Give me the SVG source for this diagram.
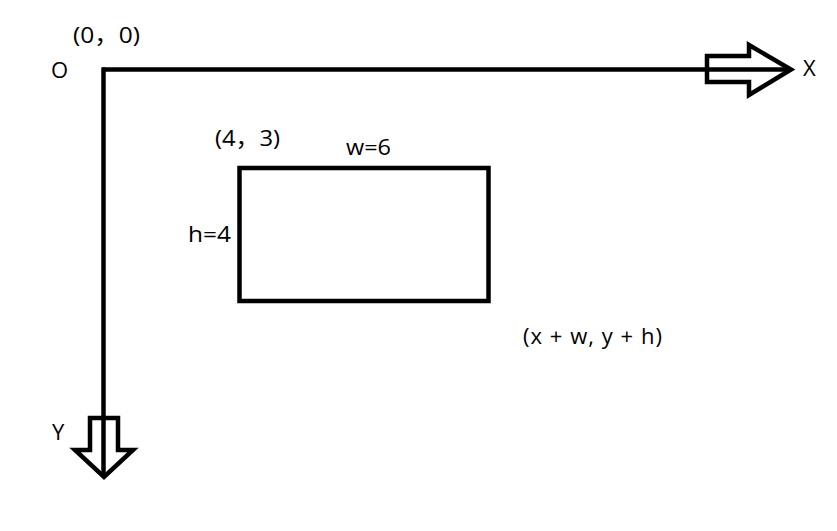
<svg xmlns="http://www.w3.org/2000/svg" width="837" height="531" viewBox="0 0 837 531">
<style>
text{font-family:"Open Sans","Noto Sans CJK SC",sans-serif;font-size:22px;fill:#000}
.ln{stroke:#000;stroke-width:4.5;fill:none}
.arrow{stroke:#000;stroke-width:4.5;fill:none;stroke-linejoin:miter}
</style>
<rect width="837" height="531" fill="#fff"/>
<g id="connectors">
<line class="ln" x1="102" y1="69.5" x2="791" y2="69.5"/>
<line class="ln" x1="103.5" y1="67.5" x2="103.5" y2="477"/>
<polygon class="arrow" points="707,56 749,56 749,45 791,69.5 749,95 749,82 707,82"/>
<polygon class="arrow" points="90,418 118,418 118,450 133,450 104,477 75,450 90,450"/>
</g>
<g id="origin">
<text x="73" y="43" textLength="67" lengthAdjust="spacingAndGlyphs">(0，0)</text>
<text x="51" y="78">O</text>
</g>
<g id="xlabel"><text x="803" y="76">X</text></g>
<g id="ylabel"><text x="52" y="440">Y</text></g>
<g id="rect">
<rect class="ln" x="239.5" y="168" width="249" height="133"/>
<text x="215" y="146" textLength="65" lengthAdjust="spacingAndGlyphs">(4，3)</text>
<text x="346" y="155" textLength="45" lengthAdjust="spacingAndGlyphs">w=6</text>
<text x="188" y="242" textLength="43" lengthAdjust="spacingAndGlyphs">h=4</text>
</g>
<g id="corner">
<text x="523" y="344" textLength="139" lengthAdjust="spacing">(x + w, y + h)</text>
</g>
</svg>
